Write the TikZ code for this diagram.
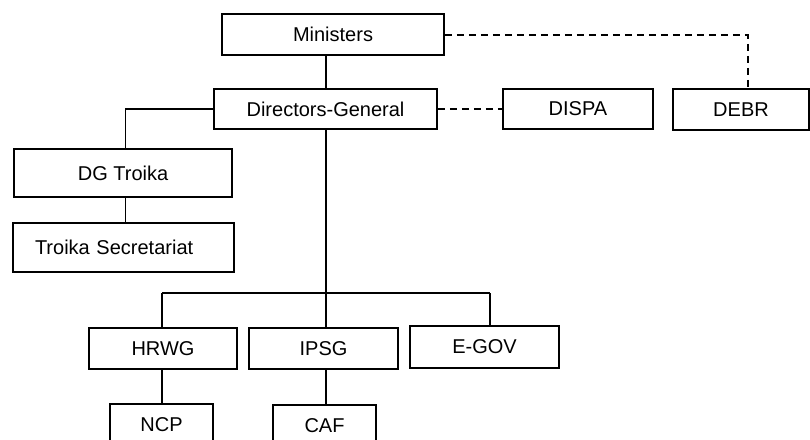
\documentclass[tikz,border=0pt]{standalone}
\usepackage{fontspec}
\setmainfont{Liberation Sans}
\begin{document}
\begin{tikzpicture}[x=1pt,y=-1pt,
  box/.style={draw, line width=1.9pt, rectangle, inner sep=0pt, font=\fontsize{20}{24}\selectfont, fill=white},
  link/.style={line width=1.9pt},
  dlink/.style={line width=1.9pt, dash pattern=on 7pt off 5pt}]
\clip (0,0) rectangle (810,439);
\fill[white] (0,0) rectangle (810,439);
% boxes
\node[box, minimum width=222pt, minimum height=41pt] (M) at (333,34.5) {Ministers};
\node[box, minimum width=223pt, minimum height=40pt] (DG) at (325.5,109) {Directors-General};
\node[box, minimum width=150pt, minimum height=40pt] (DISPA) at (578,109) {DISPA};
\node[box, minimum width=136pt, minimum height=41pt] (DEBR) at (741,109.5) {DEBR};
\node[box, minimum width=218pt, minimum height=48pt] (DGT) at (123,173) {DG Troika};
\node[box, minimum height=49pt, text width=177pt, inner xsep=22pt, align=left] (TS) at (123.5,247.5) {Troika Secretariat};
\node[box, minimum width=148pt, minimum height=41pt] (HRWG) at (163,348.5) {HRWG};
\node[box, minimum width=149pt, minimum height=41pt] (IPSG) at (323.5,348.5) {IPSG};
\node[box, minimum width=149pt, minimum height=42pt] (EGOV) at (484.5,347) {E-GOV};
\node[box, minimum width=103pt, minimum height=41pt] (NCP) at (161.5,424.5) {NCP};
\node[box, minimum width=103pt, minimum height=41pt] (CAF) at (324.5,425.5) {CAF};
% coordinates
\coordinate (bus) at (326,293);
\coordinate (bL) at (162,293);
\coordinate (bR) at (490,293);
\coordinate (dk) at (748,35);
\coordinate (tk) at (125.5,109);
% connectors
\draw[link] (M.south -| bus) -- (DG.north -| bus);
\draw[dlink] (M.east |- dk) -- (dk) -- (dk |- DEBR.north);
\draw[dlink] (DG.east) -- (DISPA.west);
\draw[link] (DG.west) -- (tk) -- (tk |- DGT.north);
\draw[link] (DGT.south -| tk) -- (TS.north -| tk);
\draw[link] (DG.south -| bus) -- (bus);
\draw[link] (bL) -- (bR);
\draw[link] (bL) -- (bL |- HRWG.north);
\draw[link] (bus) -- (bus |- IPSG.north);
\draw[link] (bR) -- (bR |- EGOV.north);
\draw[link] (HRWG.south -| bL) -- (bL |- NCP.north);
\draw[link] (IPSG.south -| bus) -- (bus |- CAF.north);
\end{tikzpicture}
\end{document}
